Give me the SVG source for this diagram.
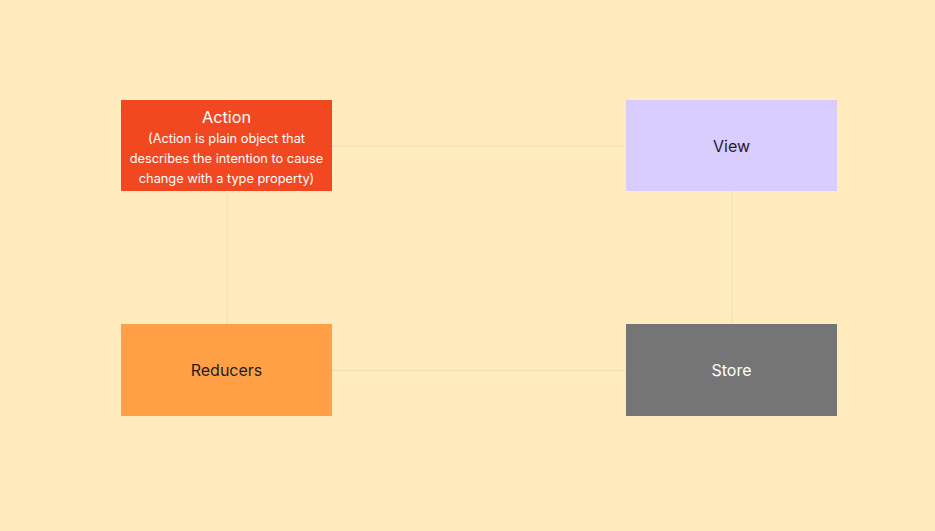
<svg xmlns="http://www.w3.org/2000/svg" width="935" height="531" viewBox="0 0 935 531">
<style>
.t{font-family:Inter,"Noto Sans",sans-serif;text-anchor:middle}
.c{stroke:#EEDDB5;stroke-width:1;fill:none}
</style>
<rect width="935" height="531" fill="#FFEBBE"/>
<g id="connectors">
<line class="c" x1="332" y1="146" x2="626" y2="146"/>
<line class="c" x1="732" y1="191" x2="732" y2="324"/>
<line class="c" x1="227" y1="191" x2="227" y2="324"/>
<line class="c" x1="332" y1="370.5" x2="626" y2="370.5"/>
</g>
<g id="action">
<rect x="121" y="100" width="211" height="91" fill="#F24822"/>
<text class="t" x="226.5" y="123" font-size="16.3" fill="#FFFFFF">Action</text>
<text class="t" x="226.5" y="143" font-size="12.8" fill="#FFFFFF">(Action is plain object that</text>
<text class="t" x="226.5" y="163" font-size="12.8" fill="#FFFFFF">describes the intention to cause</text>
<text class="t" x="226.5" y="183" font-size="12.8" fill="#FFFFFF">change with a type property)</text>
</g>
<g id="view">
<rect x="626" y="100" width="211" height="91" fill="#D9CCFF"/>
<text class="t" x="731.5" y="151.5" font-size="16" fill="#1E1E1E">View</text>
</g>
<g id="reducers">
<rect x="121" y="324" width="211" height="92" fill="#FFA046"/>
<text class="t" x="226.5" y="376" font-size="16" fill="#1E1E1E">Reducers</text>
</g>
<g id="store">
<rect x="626" y="324" width="211" height="92" fill="#757575"/>
<text class="t" x="731.5" y="376" font-size="16" fill="#FFFFFF">Store</text>
</g>
</svg>
